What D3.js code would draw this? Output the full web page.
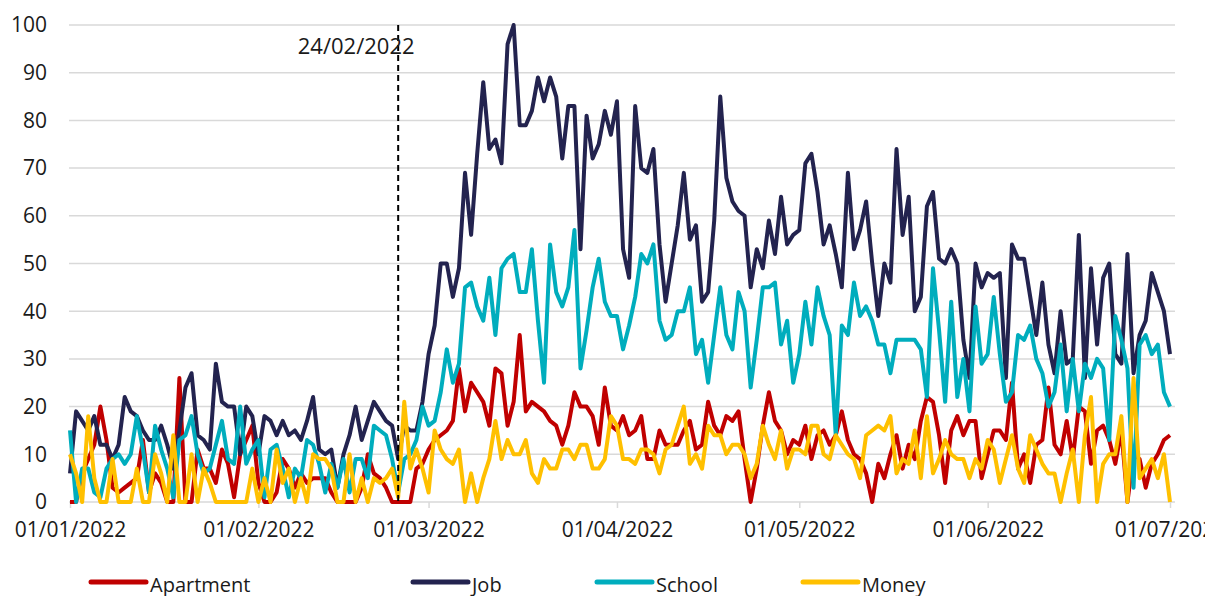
<!doctype html>
<html>
<head>
<meta charset="utf-8">
<title>Daily searches</title>
<style>
  body { margin: 0; padding: 0; background: #fff; }
  svg text { font-family: "Open Sans", sans-serif; fill: #1a1a1a; }
</style>
</head>
<body>
<svg id="chart" width="1205" height="596"></svg>
<script src="https://cdnjs.cloudflare.com/ajax/libs/d3/7.8.5/d3.min.js"></script>
<script>
// daily values, 01/01/2022 .. 01/07/2022
var apartment = [0,0,6,9,12,20,13,3,2,3,4,5,13,2,6,4,0,0,26,0,0,11,7,7,4,11,8,1,10,13,
  16,4,0,0,2,9,7,3,6,4,5,5,5,2,0,0,0,0,3,10,6,5,3,0,0,0,0,7,8,11,
  13,14,15,17,28,19,25,23,21,16,28,27,16,21,35,19,21,20,19,17,16,12,16,23,20,20,18,12,24,16,
  15,18,14,15,18,9,9,15,12,12,12,15,17,11,12,21,16,14,18,17,19,9,0,7,16,23,17,15,10,13,
  12,16,9,14,15,12,14,19,13,10,9,6,0,8,5,10,14,7,12,9,17,22,21,14,4,15,18,14,17,17,
  5,10,15,15,13,25,7,10,4,12,13,24,12,10,17,9,20,19,8,15,16,13,8,15,0,10,9,3,8,10,
  13,14];
var job = [6,19,17,15,18,12,12,9,12,22,19,18,15,13,13,16,12,7,15,24,27,14,13,11,29,21,20,20,10,20,
  18,10,18,17,14,17,14,15,13,17,22,11,10,11,3,10,14,20,13,17,21,19,17,16,9,16,15,15,21,31,
  37,50,50,43,49,69,56,73,88,74,76,71,96,100,79,79,82,89,84,89,85,72,83,83,53,81,72,75,82,77,
  84,53,47,83,70,69,74,54,42,50,58,69,55,58,42,44,59,85,68,63,61,60,45,53,49,59,52,64,54,56,
  57,71,73,65,54,58,52,45,69,53,57,63,50,39,50,46,74,56,64,40,43,62,65,51,50,53,50,34,26,50,
  45,48,47,48,26,54,51,51,43,35,46,33,27,40,29,30,56,26,49,33,47,50,31,29,52,27,35,38,48,44,
  40,31];
var school = [15,0,7,7,2,1,7,9,10,8,10,18,11,2,16,11,7,1,13,14,18,10,6,7,12,17,9,8,20,8,
  11,13,1,11,12,7,1,7,5,13,12,8,2,8,3,9,2,9,9,5,16,15,14,9,2,9,10,13,20,16,
  17,23,32,25,29,45,46,41,38,47,35,49,51,52,44,44,53,38,25,54,44,41,45,57,28,36,45,51,42,39,
  39,32,37,43,52,50,54,38,34,35,40,40,45,31,34,25,35,45,35,32,44,40,24,34,45,45,46,33,38,25,
  31,42,33,45,39,35,14,37,35,46,39,41,38,33,33,27,34,34,34,34,32,22,49,36,21,42,22,30,19,41,
  29,31,43,31,21,23,35,34,37,30,27,20,23,33,19,30,19,29,26,30,28,13,39,34,28,3,33,35,31,33,
  23,20];
var money = [10,6,0,18,5,0,0,9,0,0,0,7,0,0,10,6,0,14,0,0,10,0,7,4,0,0,0,0,0,0,
  7,0,5,0,11,4,7,0,5,0,10,9,9,7,0,0,10,0,5,0,5,4,5,7,1,21,7,11,7,2,
  15,11,9,8,11,0,6,0,5,9,17,9,13,10,10,13,6,4,9,7,7,11,11,9,12,12,7,7,9,18,
  16,9,9,8,11,11,10,6,11,12,16,20,8,10,7,16,14,14,10,12,12,10,5,8,16,12,9,15,7,11,
  11,10,16,16,10,9,14,12,10,9,5,14,15,16,15,18,6,9,8,15,5,18,6,9,13,10,9,9,5,9,
  7,13,11,4,9,14,7,4,14,11,8,6,6,0,6,11,0,14,22,0,8,10,10,18,0,26,5,7,9,5,
  10,0];

var seriesNames = ["Apartment", "Job", "School", "Money"];
var seriesColors = ["#c00000", "#23234f", "#00adbd", "#ffc000"];
var yTicks = [0, 10, 20, 30, 40, 50, 60, 70, 80, 90, 100];
var tickLabels = ["01/01/2022", "01/02/2022", "01/03/2022", "01/04/2022", "01/05/2022", "01/06/2022", "01/07/2022"];
var markerLabel = "24/02/2022";

var parse = d3.timeParse("%d/%m/%Y");
var startDate = parse("01/01/2022");
var dates = d3.range(apartment.length).map(function(i) { return d3.timeDay.offset(startDate, i); });
var tickDates = tickLabels.map(parse);
var markerDate = parse(markerLabel);

var svg = d3.select("#chart");
var plotLeft = 70, plotRight = 1170, plotTop = 25, plotBottom = 502;

var x = d3.scaleTime()
    .domain([startDate, parse("01/07/2022")])
    .range([plotLeft, plotRight]);

var y = d3.scaleLinear()
    .domain([0, 100])
    .range([plotBottom, plotTop]);

// gridlines
svg.append("g")
    .selectAll("line")
    .data(yTicks.filter(function(d) { return d > 0; }))
    .enter().append("line")
    .attr("x1", plotLeft - 1)
    .attr("x2", plotRight + 5)
    .attr("y1", function(d) { return y(d); })
    .attr("y2", function(d) { return y(d); })
    .style("stroke", "#d9d9d9")
    .style("stroke-width", 1.5);

// y axis labels
svg.append("g")
    .selectAll("text")
    .data(yTicks)
    .enter().append("text")
    .attr("x", 47)
    .attr("y", function(d) { return y(d); })
    .attr("dy", "0.35em")
    .attr("text-anchor", "end")
    .style("font-size", "21px")
    .text(function(d) { return d; });

// x axis
var xAxis = svg.append("g")
    .attr("transform", "translate(0," + plotBottom + ")")
    .call(d3.axisBottom(x)
        .tickValues(tickDates)
        .tickSize(6)
        .tickFormat(function(d, i) { return tickLabels[i]; }));
xAxis.select(".domain").attr("d", "M" + (plotLeft - 1) + ",0H" + (plotRight + 5)).style("stroke", "#d9d9d9").style("stroke-width", 1.5);
xAxis.selectAll(".tick line").style("stroke", "#d9d9d9").style("stroke-width", 1.5);
xAxis.selectAll(".tick text")
    .attr("y", 20)
    .style("font-size", "21px")
    .style("font-family", "'Open Sans', sans-serif")
    .style("fill", "#1a1a1a");

// lines
var allSeries = [apartment, job, school, money];
var line = d3.line()
    .x(function(d, i) { return x(dates[i]); })
    .y(function(d) { return y(d); });

svg.append("g")
    .selectAll("path")
    .data(allSeries)
    .enter().append("path")
    .attr("d", line)
    .style("fill", "none")
    .style("stroke", function(d, i) { return seriesColors[i]; })
    .style("stroke-width", 4)
    .style("stroke-linejoin", "round");

// marker line
svg.append("line")
    .attr("x1", x(markerDate))
    .attr("x2", x(markerDate))
    .attr("y1", plotTop)
    .attr("y2", plotBottom)
    .style("stroke", "#000")
    .style("stroke-width", 2)
    .style("stroke-dasharray", "6,4");

svg.append("text")
    .attr("x", x(markerDate) - 42)
    .attr("y", 46)
    .attr("dy", "0.35em")
    .attr("text-anchor", "middle")
    .style("font-size", "22px")
    .text(markerLabel);

// legend
var legendX = [91, 413, 597, 803];
var legend = svg.append("g")
    .selectAll("g")
    .data(seriesNames)
    .enter().append("g")
    .attr("transform", function(d, i) { return "translate(" + legendX[i] + ",582)"; });

legend.append("line")
    .attr("x1", 0)
    .attr("x2", 55)
    .style("stroke", function(d, i) { return seriesColors[i]; })
    .style("stroke-width", 5)
    .style("stroke-linecap", "round");

legend.append("text")
    .attr("x", 59)
    .attr("y", 2)
    .attr("dy", "0.38em")
    .style("font-size", "20px")
    .text(function(d) { return d; });
</script>
</body>
</html>
